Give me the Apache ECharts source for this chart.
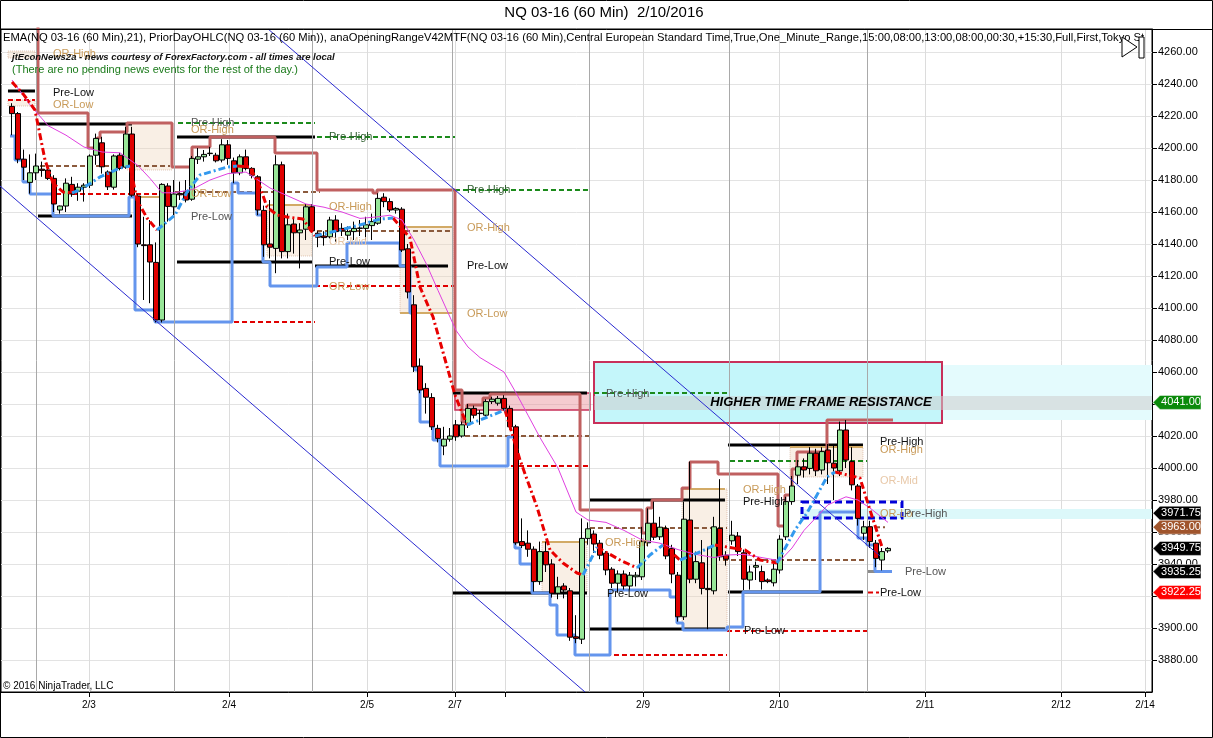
<!DOCTYPE html>
<html><head><meta charset="utf-8">
<script src="https://cdn.jsdelivr.net/npm/echarts@6/dist/echarts.min.js"></script>
<style>html,body{margin:0;padding:0;background:#fff;}#c{width:1213px;height:738px;}</style>
</head><body><div id="c"></div>
<script>
// ---------------- DATA (bar index on x, price on y) ----------------
const candleOpen = [4226,4221.5,4193,4178.5,4184.5,4186.75,4186.25,4181,4161.25,4163.75,
4177.25,4173,4175.5,4176.75,4195.5,4203.25,4185,4175.5,4195.5,4188,
4208.75,4170,4139.5,4139.5,4128.5,4092.5,4176.25,4163.25,4171.5,4172,
4168,4193,4194.5,4196.5,4195.5,4192.5,4202,4192,4184.5,4194.5,
4187.25,4182,4161,4140,4137.25,4189.5,4135.25,4152.5,4147,4149.25,
4163.25,4146.75,4145,4144.5,4155,4149.75,4145.5,4147.75,4149.75,4149.75,
4151.5,4153,4169.25,4166.5,4161.25,4161.75,4137,4102,4063.75,4049.75,
4044,4024.75,4013.75,4018,4027,4020,4027,4037.25,4034,4033,
4041.5,4040.5,4043.5,4037.25,4025.75,3954,3953,3949.25,3929,3947.75,
3940,3921.75,3926.25,3923.25,3894.5,3893,3956,3958.75,3953,3946.75,
3936.75,3928,3933.75,3926.25,3932,3932,3953.25,3965.5,3957,3962.25,
3949.75,3933,3907,3967.5,3930.5,3940.75,3924.75,3923.25,3962.25,3945.5,
3954.5,3957.5,3947,3930,3938,3935.25,3930,3928.25,3936.25,3957,
3979,3995.5,4000.75,3999.75,4009.25,3998.75,4011.25,4003,3998.25,4023.75,
4004,3988.75,3959.25,3963.25,3953,3942.5,3948.25];
const candleClose = [4221.5,4193,4188,4184.5,4188.75,4186,4181,4165,4163.75,4178,
4171.25,4175.5,4176.75,4195,4206,4188.25,4175.75,4195,4187.25,4208.75,
4170.5,4140,4139,4128.75,4092.5,4177.25,4163.5,4171.25,4170.75,4167.5,
4193.5,4194.5,4196,4196.75,4192,4202,4193.5,4184.5,4194.5,4187.25,
4183,4161.25,4139.5,4138,4189.5,4135.25,4152,4147,4148.75,4163.25,
4148.25,4144.25,4144,4155,4147.75,4148.25,4147.75,4149.75,4150,4152,
4154,4168.5,4166.5,4161.25,4162.25,4136.25,4110,4063.25,4048.75,4044.25,
4025.75,4018.5,4018,4020,4019.5,4027,4037.25,4033,4034.25,4041.5,
4043,4043.5,4037.25,4025.75,3953.25,3951.5,3949.25,3929,3947.75,3939.5,
3921.75,3925.75,3923.75,3894.25,3893.5,3956,3962,3952.5,3945.5,3936.25,
3928,3933.75,3926.25,3933,3933,3954,3965.5,3956.75,3963,3945,
3933.75,3907,3968,3930.5,3941.5,3924.75,3924,3963.25,3944.5,3943,
3958,3947.75,3930.5,3935,3939,3929,3929,3936.75,3955.5,3979,
3988.75,4000.75,3998.75,4009.25,3998.25,4010.25,4003.25,4000,4023.75,4005,
3989.5,3968.5,3963.25,3954,3943.5,3947.75,3949.75];
const candleLow = [4208,4190.5,4180,4171.5,4180,4182,4180,4160,4159,4160,
4169.5,4167,4166.5,4175,4189.5,4184,4173.75,4174,4186,4187,
4169.5,4138,4105,4103,4091,4091,4154,4158,4167.5,4166,
4167,4190,4191.5,4195,4191,4191,4189.5,4178,4183,4186,
4181,4158,4132,4131,4121.75,4131,4131,4134,4124.75,4142.5,
4147,4138,4139,4143.5,4141.5,4145,4142.5,4142.5,4145,4142.5,
4142.5,4152,4163,4160,4159,4135,4106,4060,4046.75,4034,
4023.75,4016,4008,4016.5,4017,4019,4025,4031,4027,4032,
4040,4039,4036,4024,3952,3950,3944.5,3922.75,3927,3935,
3919,3918,3918.5,3892,3890.5,3890,3952,3947,3943,3933,
3925,3922,3924,3924,3926,3930,3951,3955,3955,3943,
3928,3904,3905,3928,3928,3921,3899.25,3921,3942,3939,
3952,3945,3923.75,3924,3930,3924,3928,3926,3934,3955,
3977,3990,3994,3996,3995,3996,3990,3980,3995,4000,
3986,3964,3955,3950,3938,3936,3947];
const candleHigh = [4228,4222.5,4199,4196,4196.5,4191.5,4188,4183,4164,4181,
4182,4178,4178,4196,4209,4207,4186,4196,4197,4213.25,
4213.25,4171,4157,4155,4141,4178,4178,4180,4179,4180,
4195,4200,4198.75,4200.75,4197,4205.5,4205,4194,4196,4199,
4188,4183,4164,4167.5,4195.5,4191.5,4159,4156,4153,4165,
4165,4148,4148,4157,4158,4153,4151,4154,4155,4157,
4159,4171.75,4171.75,4168.5,4163,4163,4140,4108,4068.5,4053,
4046.75,4027,4025.75,4025,4030,4029,4040,4039,4036.25,4043,
4044.5,4045,4045.5,4039,4027,3968.5,3961,3951,3954,3954,
3943,3932,3928,3925,3908,3968.5,3966,3961,3955,3948,
3938,3936,3936,3935,3935,3963.25,3974.75,3979,3969.5,3964,
3952,3935,3979,4004,3947.75,3955,3950.75,3969.5,3993,3948,
3967,3960,3949,3939,3941.5,3939,3931,3940,3958,3982,
3995,4005,4006,4013,4012,4013,4015,4015,4029,4030,
4013,3990,3967,3967,3955,3950,3950.5];

// EMA(21): [barIndex, price]
const emaPoints = [[0,4242.5],[3,4227],[6,4214],[9,4208],[12,4200.6],[15,4197.5],[18,4197],[21,4189],[23,4181],[25,4172],
[27,4172],[30,4174],[33,4180],[36,4184],[39,4185],[41,4180],[43,4175],[46,4170],[49,4165],[52,4163],
[55,4160],[58,4156],[61,4157],[63,4158],[65,4155],[67,4142.5],[69,4128],[71,4111],[74,4086],[76,4075.6],
[78,4069],[82,4060],[84,4047],[86,4033],[88,4019],[91,4000],[94,3972.5],[96,3967.5],[99,3966],[102,3961],
[105,3955],[108,3953],[111,3949],[114,3946],[117,3944],[119,3945.6],[122,3946],[125,3944],[128,3942],[130,3950],
[132,3961],[134,3969],[136,3977],[139,3982],[141,3980],[143,3975],[146,3966]];

// slope-coloured moving average: falling segments / rising segments
const maFalling = [
 [[0,4241.25],[2,4233.1],[3.83,4223.75],[5.5,4192.5],[6.83,4178.1],[8.5,4172.5],[10,4171.9]],
 [[19.67,4188.75],[20.83,4167.5],[22.5,4156.25],[24.17,4148.75]],
 [[37.5,4188.75],[39.67,4188.1],[41.33,4175.6],[42.5,4163.1],[44.17,4158.1],[45.83,4156.9],[48.5,4155.6],[50.5,4145]],
 [[63.5,4156.25],[66.33,4143.75],[68,4113.1],[70.17,4094.4],[71.83,4072.5],[73.83,4045.6],[75.83,4026.9]],
 [[82.17,4036.25],[84.67,4005],[87.5,3975.6],[89.67,3948.75],[91.83,3940.6],[94.17,3934.4],[95.17,3933.1]],
 [[97.5,3950.6],[101.33,3942.5],[104.17,3937.5]],
 [[108.5,3951.9],[111.33,3942.5]],
 [[117.17,3951.9],[122.17,3948.75],[124.67,3942.5],[127.5,3940.6]],
 [[137.17,3997.5],[141.33,3993.75],[143,3973.75],[145,3950.6]]
];
const maRising = [
 [[10,4171.9],[11.33,4173.75],[14.67,4181.9],[18,4187.5],[19.67,4188.75]],
 [[24.17,4148.75],[27.17,4158.1],[29.17,4172.5],[31.33,4183.1],[35.83,4188.1],[37.5,4188.75]],
 [[50.5,4145],[54.67,4148.75],[58,4151.9],[61.33,4155.6],[63.5,4156.25]],
 [[75.83,4026.9],[78.83,4031.25],[82.17,4036.25]],
 [[95.17,3933.1],[97.5,3950.6]],
 [[104.17,3937.5],[106.33,3945.6],[108.5,3951.9]],
 [[111.33,3942.5],[114.67,3947.5],[117.17,3951.9]],
 [[127.5,3940.6],[130.5,3961.25],[132.5,3971.9],[135.83,3994.4],[137.17,3997.5]]
];

// step lines: [startBar, level]
const highSteps = [[4.33,4290],[4.33,4221.9],[12.67,4200],[14.17,4206.25],[14.67,4210],[19.17,4215.6],[26.67,4188.1],[30,4200.6],[33,4206.9],
[43.83,4196.9],[50.83,4173.75],[60.17,4171.9],[60.83,4173.75],[73.83,4048.75],[75,4028.75],[75.83,4039.4],[78.5,4043.75],[79.67,4046.25],
[94.67,3973.75],[105,3959.4],[105.83,3975],[106.67,3980],[111.67,3987.5],[113,4003.75],[117.67,3996.25],[127.67,3963.75],[128.83,3983.1],
[130,3999.4],[130.83,4010],[135.83,4030]];
const highStepsEnd = 146.83;
const lowSteps = [[-0.33,4207.5],[0.5,4192.5],[1.83,4178.75],[3,4171.25],[6.83,4157.5],[19.5,4169.4],[20.5,4098.75],[23.83,4091.25],
[36.67,4178.1],[37.67,4171.9],[40.83,4158.1],[41.83,4128.75],[43,4113.75],[50.83,4125.6],[55.83,4140.6],[64.67,4126.25],[66.33,4096.9],
[67.17,4061.25],[68,4028.75],[70.17,4017.5],[71.33,4001.25],[82.67,4019.4],[83.83,3950],[84.67,3940],[86.67,3921.9],[89.67,3914.4],
[90.83,3895.6],[93.83,3883.1],[99.67,3923.75],[109.67,3919.4],[110.83,3903.1],[111.83,3898.75],[119.17,3900.6],[121.83,3922.5],
[134.67,3972.5],[141,3956.25],[142.5,3951.9],[143.83,3935.25]];
const lowStepsEnd = 146.67;

const channelUpper = [[42.67,4274.4],[144.67,3945]];
const channelLower = [[-2,4176.25],[95.5,3860]];

// level segments: [fromBar, toBar, price, kind]
const levelSegments = [
 [-0.67,3.83,4235.6,'pre'],[-0.67,3.83,4230,'orLow'],
 [4.33,20,4215,'pre'],[4.67,26.33,4188.75,'mid'],[4.67,26.33,4171.25,'orLow'],[4.33,20,4157.5,'pre'],[20,26.33,4169.4,'or'],
 [27.67,50.5,4215.6,'preHigh'],[27.5,50.5,4206.9,'pre'],[27.17,51.33,4172.5,'mid'],[27.5,50,4128.75,'pre'],[27.67,50.5,4091.25,'orLow'],[42.5,50,4164.4,'or'],
 [50.83,73.83,4206.9,'preHigh'],[50.83,73.5,4148.1,'mid'],[50.5,72.67,4126.25,'pre'],[50.5,73.83,4113.75,'orLow'],[64.67,73.5,4150.6,'or'],[64.67,73.5,4096.9,'or'],
 [73.83,96.33,4173.75,'preHigh'],[73.33,95.83,4046.9,'pre'],[75.5,96.33,4020,'mid'],[73.83,96.33,4001.25,'orLow'],[73.33,95.83,3921.9,'pre'],[88.33,95.83,3953.75,'or'],
 [96.33,118.83,3980,'pre'],[96.33,119.17,3962.5,'mid'],[96.33,118.83,3899.4,'pre'],[96.33,119.17,3883.1,'orLow'],[111.67,118.83,3986.9,'or'],[97,119.17,4046.9,'preHigh'],
 [119.33,141.83,4014.4,'pre'],[119.67,142.5,4004.4,'preHigh'],[118.5,142.5,3942.5,'mid'],[119.33,141.83,3922.5,'pre'],[119.17,142.5,3898.1,'orLow'],[129.67,141.83,4013.1,'or'],
 [142.5,145.5,3963,'mid'],[142.67,144.5,3922.25,'orLow'],[142.5,144.17,3935.25,'grey']
];

// opening-range boxes: [fromBar, topPrice, toBar, bottomPrice]
const rangeBoxes = [[-0.67,4260.6,3.83,4256.25],[-0.67,4230,3.83,4226.25],[19.17,4215.6,26.67,4186.25],[42.5,4164.4,50,4132.5],
 [64.67,4150.6,73.5,4096.9],[88.33,3953.75,95.83,3921.9],[111.67,3986.9,119.17,3898.75],[129.67,4013.1,141.83,3994.4]];
const priorRangeBox = [73.83,4046.9,96.33,4036.25];
const resistanceBox = [97,4066.25,155,4028.1];
const resistanceExt = [155,4064.4,190,4030];
const resistanceCore = [97,4045,190,4036.25];
const supportBand = [131.33,3974.4,190,3968.1];
const dashedBox = [131.67,3978.75,148.33,3968.75];
const resistanceText = [134.83,4041.25,'HIGHER TIME FRAME RESISTANCE'];

const priceTags = [4041,3971.75,3963,3949.75,3935.25,3922.25];
const priceTagKinds = ['resist','level','mid','last','level','low'];

const dateTicks = [12.83,36.17,59.17,73.83,82.17,105.17,127.83,152.17,174.83,188.83];
const dateLabels = ['2/3','2/4','2/5','2/7','','2/9','2/10','2/11','2/12','2/14'];
const sessionBreaks = [4,27,50,73.33,96.17,119.5,142.5];
const yTicks = [3880,3900,3920,3940,3960,3980,4000,4020,4040,4060,4080,4100,4120,4140,4160,4180,4200,4220,4240,4260];

const annoPos = [[6.83,4258.75],[6.83,4234.4],[6.83,4226.9],[29.83,4215.6],[29.83,4211.25],[52.83,4206.9],[29.83,4171.25],[29.83,4156.9],
 [52.83,4163.1],[52.83,4128.75],[52.83,4113.1],[52.83,4141],[75.83,4173.75],[75.83,4150],[75.83,4126.25],[75.83,4096.25],[99,4046.25],
 [98.83,3953.1],[99.17,3921.25],[121.83,3986.25],[121.83,3978.75],[122,3898.1],[144.67,4016.25],[144.67,4011.25],[144.67,3991.9],
 [144.67,3971.25],[148.67,3971.25],[148.83,3935],[144.67,3921.9]];
const annoText = ['OR-High','Pre-Low','OR-Low','Pre-High','OR-High','Pre-High','OR-Low','Pre-Low',
 'OR-High','Pre-Low','OR-Low','OR-Mid','Pre-High','OR-High','Pre-Low','OR-Low','Pre-High',
 'OR-High','Pre-Low','OR-High','Pre-High','Pre-Low','Pre-High','OR-High','OR-Mid',
 'OR-Lo','Pre-High','Pre-Low','Pre-Low'];
const annoKind = ['or','pre','or','preGrey','or','preHigh','or','preGrey',
 'or','pre','or','mid','preHigh','or','pre','or','preGrey',
 'or','pre','or','pre','pre','pre','or','mid',
 'or','preGrey','preGrey','pre'];

// ---------------- STYLES ----------------
const FONT = '"Liberation Sans", Arial, sans-serif';
const levelStyle = {
  pre:{color:'#000',width:3,type:'solid'},
  preHigh:{color:'#1b8a1b',width:2,type:[5,3]},
  mid:{color:'#8b5a3c',width:2,type:[5,3]},
  orLow:{color:'#e00000',width:2,type:[5,3]},
  or:{color:'#d2aa66',width:2,type:'solid'},
  grey:{color:'#8c8c8c',width:3,type:'solid'}
};
const annoColor = {or:'#c89a58',pre:'#111',preGrey:'#555',preHigh:'#2f5f2f',mid:'#e8c8a8'};
const tagColor = {resist:'#0a8a0a',level:'#000',mid:'#a0552d',last:'#000',low:'#ff0000'};

// ---------------- BUILD ----------------
function stepPts(steps,end){const pts=[];for(let k=0;k<steps.length;k++){const x1=k+1<steps.length?steps[k+1][0]:end;pts.push([steps[k][0],steps[k][1]],[x1,steps[k][1]]);}return pts;}
function box(b,style){return [{coord:[b[0],b[1]],itemStyle:style},{coord:[b[2],b[3]]}];}

const candles = candleOpen.map((o,i)=>[i,o,candleClose[i],candleLow[i],candleHigh[i]]);
const series = [];
const X0 = -11/6, X1 = 190, Y0 = 3860, Y1 = 3860 + 663/1.6;

series.push({type:'line',data:[],z:1,silent:true,markLine:{silent:true,symbol:['none','none'],animation:false,label:{show:false},
  data:sessionBreaks.map(v=>({xAxis:v,lineStyle:{color:'#a9a9a9',width:1,type:'solid'}}))}});
series.push({type:'line',data:[],z:2,silent:true,markArea:{silent:true,animation:false,data:[
  box(resistanceExt,{color:'#e4fbfd'}),
  box(supportBand,{color:'#dcf8fa'}),
  box(resistanceBox,{color:'#c4f6fa',borderColor:'#c8305a',borderWidth:2}),
  box(resistanceCore,{color:'rgba(205,205,205,0.55)'}),
  ...rangeBoxes.map(b=>box(b,{color:'rgba(238,212,186,0.38)',borderColor:'rgba(200,150,120,0.5)',borderWidth:1,borderType:'dotted'})),
  box(priorRangeBox,{color:'rgba(232,140,150,0.45)',borderColor:'#c8305a',borderWidth:1.5})
]}});
levelSegments.forEach(s=>{const st=levelStyle[s[3]];series.push({type:'line',z:3,silent:true,symbol:'none',data:[[s[0],s[2]],[s[1],s[2]]],lineStyle:{color:st.color,width:st.width,type:st.type}});});
series.push({type:'line',z:4,silent:true,symbol:'none',data:stepPts(highSteps,highStepsEnd),lineStyle:{color:'#c06060',width:3}});
series.push({type:'line',z:4,silent:true,symbol:'none',data:stepPts(lowSteps,lowStepsEnd),lineStyle:{color:'#6495ed',width:3}});
series.push({type:'candlestick',z:5,silent:true,data:candles,encode:{x:0,y:[1,2,3,4]},barWidth:5,
  itemStyle:{color:'#98e698',color0:'#e00000',borderColor:'#000',borderColor0:'#000',borderWidth:1}});
series.push({type:'line',z:6,silent:true,symbol:'none',data:emaPoints,lineStyle:{color:'#e040e0',width:1}});
maFalling.forEach(seg=>series.push({type:'line',z:6,silent:true,symbol:'none',data:seg,lineStyle:{color:'#e80000',width:3,type:[7,3,2,3]}}));
maRising.forEach(seg=>series.push({type:'line',z:6,silent:true,symbol:'none',data:seg,lineStyle:{color:'#3399ee',width:3,type:[7,3,2,3]}}));
[channelUpper,channelLower].forEach(c=>series.push({type:'line',z:6,silent:true,symbol:'none',data:c,lineStyle:{color:'#2a2ad0',width:1}}));
series.push({type:'line',data:[],z:7,silent:true,markArea:{silent:true,animation:false,data:[box(dashedBox,{color:'rgba(0,0,0,0)',borderColor:'#0000d8',borderWidth:3,borderType:[7,4]})]}});

const option = {
  animation:false,
  backgroundColor:'#fff',
  grid:{left:1,right:61,top:29,bottom:46,show:true,borderColor:'#000',borderWidth:1,backgroundColor:'#fff'},
  xAxis:{type:'value',min:X0,max:X1,
    axisLine:{show:true,onZero:false,lineStyle:{color:'#000',width:1}},
    axisTick:{show:true,length:5,customValues:dateTicks,lineStyle:{color:'#000'}},
    axisLabel:{show:true,customValues:dateTicks,margin:8,fontSize:10,fontFamily:FONT,color:'#000',
      formatter:v=>{let b=0,d=1e9;dateTicks.forEach((t,k)=>{if(Math.abs(t-v)<d){d=Math.abs(t-v);b=k;}});return dateLabels[b];}},
    splitLine:{show:true,lineStyle:{color:'#dcdcdc',width:1}}},
  yAxis:{type:'value',position:'right',min:Y0,max:Y1,
    axisLine:{show:true,onZero:false,lineStyle:{color:'#000',width:1}},
    axisTick:{show:true,length:5,customValues:yTicks,lineStyle:{color:'#000'}},
    axisLabel:{show:true,customValues:yTicks,margin:6,fontSize:11,fontFamily:FONT,color:'#000',formatter:v=>v.toFixed(2)},
    splitLine:{show:true,lineStyle:{color:'#e3e3e3',width:1}}},
  series:series
};
const chart = echarts.init(document.getElementById('c'),null,{renderer:'canvas'});
chart.setOption(option);

// ---------------- TEXT & TAGS (positioned via the chart's scales) ----------------
const g = [];
g.push({type:'rect',shape:{x:0.5,y:0.5,width:1212,height:737},style:{fill:'none',stroke:'#000',lineWidth:1},silent:true,z:1});
g.push({type:'line',shape:{x1:0,y1:29.5,x2:1213,y2:29.5},style:{stroke:'#000',lineWidth:1},z:100});
g.push({type:'text',x:604,y:13,style:{text:'NQ 03-16 (60 Min)  2/10/2016',font:'15px '+FONT,fill:'#000',align:'center',verticalAlign:'middle'},z:100});
g.push({type:'text',x:3,y:38,style:{text:'EMA(NQ 03-16 (60 Min),21), PriorDayOHLC(NQ 03-16 (60 Min)), anaOpeningRangeV42MTF(NQ 03-16 (60 Min),Central European Standard Time,True,One_Minute_Range,15:00,08:00,13:00,08:00,00:30,+15:30,Full,First,Tokyo Start',
  font:'11.2px '+FONT,fill:'#000',verticalAlign:'middle',width:1147,overflow:'truncate',ellipsis:''},z:100});
g.push({type:'text',x:12,y:57,style:{text:'jtEconNews2a - news courtesy of ForexFactory.com - all times are local',font:'italic bold 9.5px '+FONT,fill:'#111',verticalAlign:'middle'},z:100});
g.push({type:'text',x:12,y:70,style:{text:'(There are no pending news events for the rest of the day.)',font:'11px '+FONT,fill:'#1a7a1a',verticalAlign:'middle'},z:100});
g.push({type:'text',x:3,y:686,style:{text:'\u00A9 2016 NinjaTrader, LLC',font:'10px '+FONT,fill:'#000',verticalAlign:'middle'},z:100});
g.push({type:'polygon',shape:{points:[[1122,37],[1137,47],[1122,57]]},style:{fill:'#fff',stroke:'#000',lineWidth:1},z:100});
g.push({type:'rect',shape:{x:1139,y:37,width:5,height:21},style:{fill:'#fff',stroke:'#000',lineWidth:1},z:100});

annoPos.forEach((p,k)=>{const pt=chart.convertToPixel({xAxisIndex:0,yAxisIndex:0},p);
  g.push({type:'text',x:pt[0],y:pt[1],style:{text:annoText[k],font:'11px '+FONT,fill:annoColor[annoKind[k]],verticalAlign:'middle'},z:90});});
{const pt=chart.convertToPixel({xAxisIndex:0,yAxisIndex:0},[resistanceText[0],resistanceText[1]]);
 g.push({type:'text',x:pt[0],y:pt[1],style:{text:resistanceText[2],font:'italic bold 13px '+FONT,fill:'#000',align:'center',verticalAlign:'middle'},z:95});}

const axisX = 1152;
priceTags.forEach((v,k)=>{const y=chart.convertToPixel({yAxisIndex:0},v);
  g.push({type:'polygon',shape:{points:[[axisX+1,y],[axisX+8,y-7],[axisX+49,y-7],[axisX+49,y+7],[axisX+8,y+7]]},style:{fill:tagColor[priceTagKinds[k]],stroke:'#fff',lineWidth:0.5},z:110});
  g.push({type:'text',x:axisX+29,y:y,style:{text:v.toFixed(2),font:'11px '+FONT,fill:'#fff',align:'center',verticalAlign:'middle'},z:111});});

chart.setOption({graphic:{elements:g}});
</script>
</body></html>
